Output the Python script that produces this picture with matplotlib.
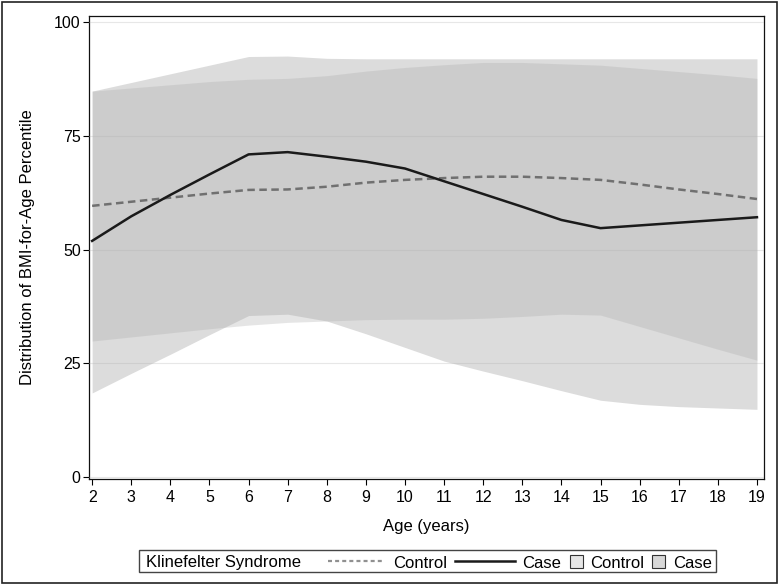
import matplotlib
matplotlib.use('Agg')
import matplotlib.pyplot as plt
from matplotlib.patches import Rectangle
from matplotlib.lines import Line2D

plt.rcParams['font.family'] = ['Liberation Sans', 'DejaVu Sans']
plt.rcParams['font.size'] = 12

# data
age = [2, 3, 4, 5, 6, 7, 8, 9, 10, 11, 12, 13, 14, 15, 16, 17, 18, 19]
case_mean = [51.9, 57.3, 62.0, 66.5, 70.9, 71.4, 70.4, 69.3, 67.8, 65.0, 62.2, 59.4, 56.5, 54.7, 55.3, 55.9, 56.5, 57.1]
ctrl_mean = [59.6, 60.5, 61.4, 62.3, 63.1, 63.2, 63.8, 64.7, 65.3, 65.7, 66.0, 66.0, 65.7, 65.3, 64.3, 63.2, 62.2, 61.1]
case_hi = [84.8, 86.7, 88.6, 90.5, 92.4, 92.5, 92.0, 91.9, 91.9, 91.9, 91.9, 91.9, 91.9, 91.9, 91.9, 91.9, 91.9, 91.9]
case_lo = [18.5, 22.8, 27.0, 31.3, 35.5, 35.8, 34.3, 31.5, 28.5, 25.5, 23.3, 21.2, 19.0, 16.9, 16.0, 15.5, 15.2, 14.9]
ctrl_hi = [84.8, 85.5, 86.2, 86.9, 87.4, 87.6, 88.2, 89.2, 90.0, 90.6, 91.1, 91.1, 90.8, 90.5, 89.8, 89.1, 88.4, 87.6]
ctrl_lo = [29.9, 30.8, 31.7, 32.6, 33.4, 34.0, 34.3, 34.6, 34.7, 34.7, 34.9, 35.3, 35.8, 35.6, 33.1, 30.6, 28.1, 25.7]

ctrl_fill = '#c0c0c0'
case_fill = '#a8a8a8'

fig = plt.figure(figsize=(7.8, 5.86), dpi=100)
ax = fig.add_axes([89/780, 1 - 479/586, 675/780, 463/586])

ax.fill_between(age, ctrl_lo, ctrl_hi, color=ctrl_fill, alpha=0.4, lw=0, zorder=1)
ax.fill_between(age, case_lo, case_hi, color=case_fill, alpha=0.4, lw=0, zorder=2)
for yv in [0, 25, 50, 75, 100]:
    ax.axhline(yv, color='#b0b0b0', lw=0.8, alpha=0.3, zorder=3)
ax.plot(age, ctrl_mean, color='#707070', lw=1.8, ls=(0, (3.0, 1.8)), zorder=4)
ax.plot(age, case_mean, color='#1a1a1a', lw=1.8, zorder=5)

ax.set_xlim(1.92, 19.18)
ax.set_ylim(-0.4, 101.3)
ax.set_xticks(age)
ax.set_yticks([0, 25, 50, 75, 100])
ax.tick_params(direction='out', length=4, width=0.8, colors='black', labelsize=11.5)
ax.tick_params(axis='x', pad=4)
ax.tick_params(axis='y', pad=2)
for s in ax.spines.values():
    s.set_linewidth(0.9)
    s.set_color('#111111')
ax.set_xlabel('Age (years)', fontsize=12, labelpad=10)
ax.set_ylabel('Distribution of BMI-for-Age Percentile', fontsize=12, labelpad=14)

# legend strip drawn in pixel units
lg = fig.add_axes([0, 0, 1, 1], zorder=10)
lg.set_xlim(0, 780)
lg.set_ylim(586, 0)
lg.axis('off')
lg.add_patch(Rectangle((139, 550), 577, 22, fill=False, ec='#444444', lw=1.0))
yc = 561
lg.text(146, yc + 0.5, 'Klinefelter Syndrome', va='center_baseline', ha='left', fontsize=12)
lg.add_line(Line2D([328, 383], [yc, yc], color='#909090', lw=1.6, ls=(0, (1.8, 1.4))))
lg.text(393, yc + 0.5, 'Control', va='center_baseline', ha='left', fontsize=12)
lg.add_line(Line2D([455, 515], [yc, yc], color='#1a1a1a', lw=1.8))
lg.text(522, yc + 0.5, 'Case', va='center_baseline', ha='left', fontsize=12)
lg.add_patch(Rectangle((570, yc - 6.5), 13, 13, fc='#e6e6e6', ec='#333333', lw=0.8))
lg.text(590, yc + 0.5, 'Control', va='center_baseline', ha='left', fontsize=12)
lg.add_patch(Rectangle((652, yc - 6.5), 13, 13, fc='#d8d8d8', ec='#333333', lw=0.8))
lg.text(673, yc + 0.5, 'Case', va='center_baseline', ha='left', fontsize=12)
# outer border
lg.add_patch(Rectangle((2, 2), 775, 581, fill=False, ec='#222222', lw=1.2))

fig.savefig('out.png', dpi=100)
